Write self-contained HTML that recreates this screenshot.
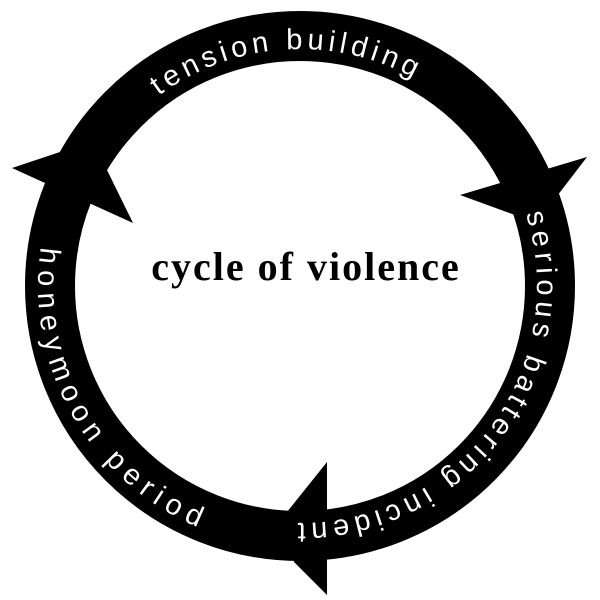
<!DOCTYPE html>
<html><head><meta charset="utf-8"><style>
html,body{margin:0;padding:0;background:#fff;}
svg{display:block;}
</style></head><body>
<svg width="600" height="600" viewBox="0 0 600 600" xmlns="http://www.w3.org/2000/svg">
<defs>
<path id="pt" d="M94.8,167.5 A237,237 0 0 1 489.3,143.4"/>
<path id="ps" d="M522.7,204.9 A237,237 0 0 1 283.5,522.4"/>
<path id="ph" d="M53.8,196.4 A262,262 0 0 0 254.5,544.0"/>
</defs>
<circle cx="300" cy="286" r="250" fill="none" stroke="#000" stroke-width="50"/>
<polygon points="12,168 60,152 106,168 133,223" fill="#000"/>
<polygon points="587,157 460,195 523,218 554,200" fill="#000"/>
<polygon points="327,462 287,512 294,562 327,595" fill="#000"/>
<g font-family="Liberation Sans, sans-serif" font-size="29" fill="#fff">
<text letter-spacing="4.5"><textPath href="#pt" startOffset="50%" text-anchor="middle">tension building</textPath></text>
<text letter-spacing="5"><textPath href="#ps" startOffset="50%" text-anchor="middle">serious battering incident</textPath></text>
<text letter-spacing="7"><textPath href="#ph" startOffset="50%" text-anchor="middle">honeymoon period</textPath></text>
</g>
<text x="306" y="280" text-anchor="middle" font-family="Liberation Serif, serif" font-weight="bold" font-size="40" letter-spacing="2" fill="#000">cycle of violence</text>
</svg>
</body></html>
